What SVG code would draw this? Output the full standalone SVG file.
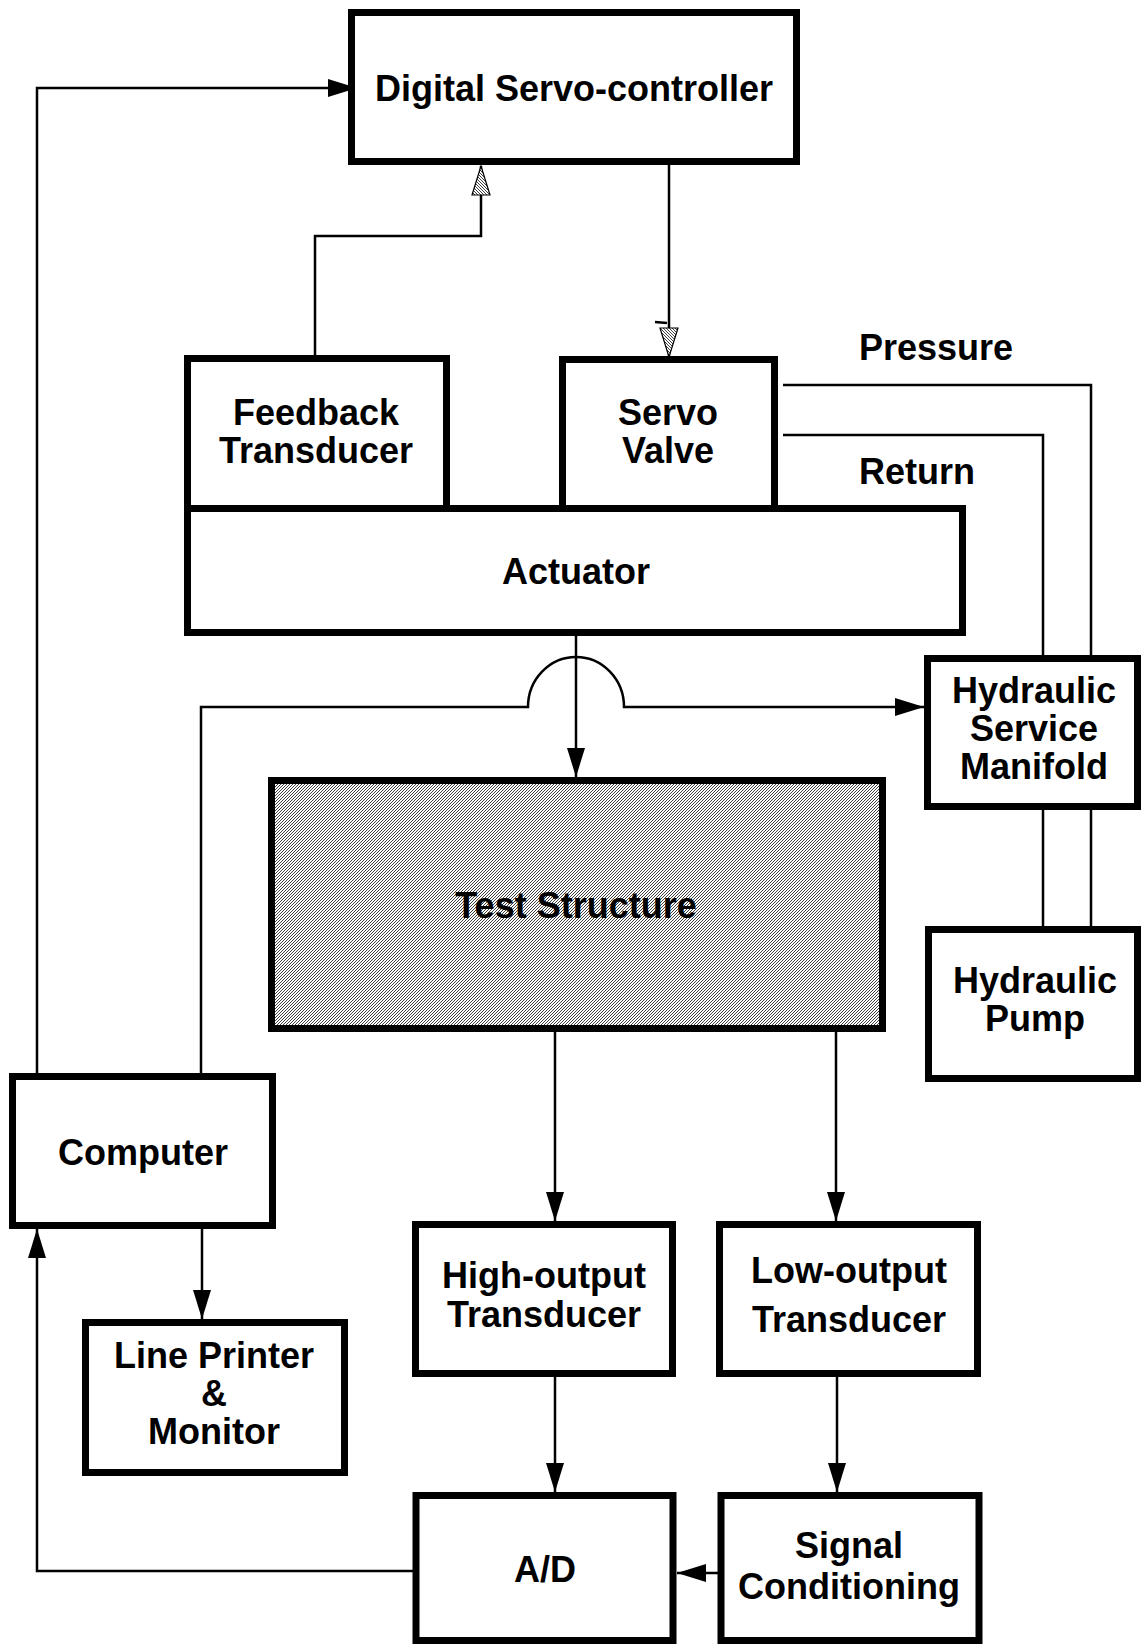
<svg xmlns="http://www.w3.org/2000/svg" width="1143" height="1645" viewBox="0 0 1143 1645">
  <style>
    .box { fill: #ffffff; stroke: #000000; stroke-width: 7; }
    .lbl { font-family: "Liberation Sans", Arial, sans-serif; font-weight: bold; font-size: 36px; fill: #000000; text-anchor: middle; }
    .lbl-start { text-anchor: start; }
    .conn { fill: none; stroke: #000000; stroke-width: 2.5; }
  </style>
  <defs>
    <pattern id="hatch" patternUnits="userSpaceOnUse" width="3" height="3">
      <rect width="3" height="3" fill="#ffffff"/>
      <path d="M-1,1 l2,-2 M0,3 l3,-3 M2,4 l2,-2" stroke="#000000" stroke-width="0.75"/>
    </pattern>
    <marker id="arrow" markerUnits="userSpaceOnUse" viewBox="0 0 29 18" markerWidth="29" markerHeight="18" refX="29" refY="9" orient="auto">
      <path d="M0,0 L29,9 L0,18 z" fill="#000000"/>
    </marker>
    <marker id="arrowHatch" markerUnits="userSpaceOnUse" viewBox="-1 -1 31 20" markerWidth="31" markerHeight="20" refX="29" refY="9" orient="auto">
      <path d="M0,0 L29,9 L0,18 z" fill="url(#hatch)" stroke="#000000" stroke-width="1.2"/>
    </marker>
  </defs>

  <g id="connectors">
    <path class="conn" d="M37,1073 V88 H357" marker-end="url(#arrow)"/>
    <path class="conn" d="M315,355 V236 H481 V166" marker-end="url(#arrowHatch)"/>
    <path class="conn" d="M669,165 V357" marker-end="url(#arrowHatch)"/>
    <path class="conn" d="M655,322 L667,323" stroke-width="1.5"/>
    <path class="conn" d="M783,385 H1091 V926"/>
    <path class="conn" d="M783,435 H1043 V926"/>
    <path class="conn" d="M576,636 V777" marker-end="url(#arrow)"/>
    <path class="conn" d="M201,1073 V707 H528 A48,50 0 0 1 624,707 H924" marker-end="url(#arrow)"/>
    <path class="conn" d="M555,1032 V1221" marker-end="url(#arrow)"/>
    <path class="conn" d="M836,1032 V1221" marker-end="url(#arrow)"/>
    <path class="conn" d="M202,1229 V1319" marker-end="url(#arrow)"/>
    <path class="conn" d="M555,1377 V1492" marker-end="url(#arrow)"/>
    <path class="conn" d="M837,1377 V1492" marker-end="url(#arrow)"/>
    <path class="conn" d="M718,1573 H677" marker-end="url(#arrow)"/>
    <path class="conn" d="M413,1571 H37 V1229" marker-end="url(#arrow)"/>
  </g>

  <g id="digital-servo-controller">
    <rect class="box" x="351.5" y="12.5" width="445" height="149"/>
    <text class="lbl" x="574" y="101">Digital Servo-controller</text>
  </g>
  <g id="feedback-transducer">
    <rect class="box" x="187.5" y="358.5" width="259" height="150"/>
    <text class="lbl" x="316" y="425">Feedback</text>
    <text class="lbl" x="316" y="463">Transducer</text>
  </g>
  <g id="servo-valve">
    <rect class="box" x="562.5" y="359.5" width="212" height="150"/>
    <text class="lbl" x="668" y="425">Servo</text>
    <text class="lbl" x="668" y="463">Valve</text>
  </g>
  <g id="actuator">
    <rect class="box" x="187.5" y="508.5" width="775" height="124"/>
    <text class="lbl" x="576" y="584">Actuator</text>
  </g>
  <g id="pressure-label">
    <text class="lbl lbl-start" x="859" y="360">Pressure</text>
  </g>
  <g id="return-label">
    <text class="lbl lbl-start" x="859" y="484">Return</text>
  </g>
  <g id="hydraulic-service-manifold">
    <rect class="box" x="927.5" y="658.5" width="210" height="148"/>
    <text class="lbl" x="1034" y="703">Hydraulic</text>
    <text class="lbl" x="1034" y="741">Service</text>
    <text class="lbl" x="1034" y="779">Manifold</text>
  </g>
  <g id="test-structure">
    <rect x="271.5" y="780.5" width="611" height="248" fill="url(#hatch)" stroke="#000000" stroke-width="7"/>
    <text class="lbl" x="576" y="918">Test Structure</text>
  </g>
  <g id="hydraulic-pump">
    <rect class="box" x="928.5" y="929.5" width="209" height="149"/>
    <text class="lbl" x="1035" y="993">Hydraulic</text>
    <text class="lbl" x="1035" y="1031">Pump</text>
  </g>
  <g id="computer">
    <rect class="box" x="12.5" y="1076.5" width="260" height="149"/>
    <text class="lbl" x="143" y="1165">Computer</text>
  </g>
  <g id="line-printer-monitor">
    <rect class="box" x="85.5" y="1322.5" width="259" height="150"/>
    <text class="lbl" x="214" y="1368">Line Printer</text>
    <text class="lbl" x="214" y="1406">&amp;</text>
    <text class="lbl" x="214" y="1444">Monitor</text>
  </g>
  <g id="high-output-transducer">
    <rect class="box" x="415.5" y="1224.5" width="257" height="149"/>
    <text class="lbl" x="544" y="1288">High-output</text>
    <text class="lbl" x="544" y="1327">Transducer</text>
  </g>
  <g id="low-output-transducer">
    <rect class="box" x="719.5" y="1224.5" width="258" height="149"/>
    <text class="lbl" x="849" y="1283">Low-output</text>
    <text class="lbl" x="849" y="1332">Transducer</text>
  </g>
  <g id="a-d">
    <rect class="box" x="416" y="1495.5" width="257" height="145"/>
    <text class="lbl" x="545" y="1582">A/D</text>
  </g>
  <g id="signal-conditioning">
    <rect class="box" x="721" y="1495.5" width="258" height="145"/>
    <text class="lbl" x="849" y="1558">Signal</text>
    <text class="lbl" x="849" y="1599">Conditioning</text>
  </g>
</svg>
